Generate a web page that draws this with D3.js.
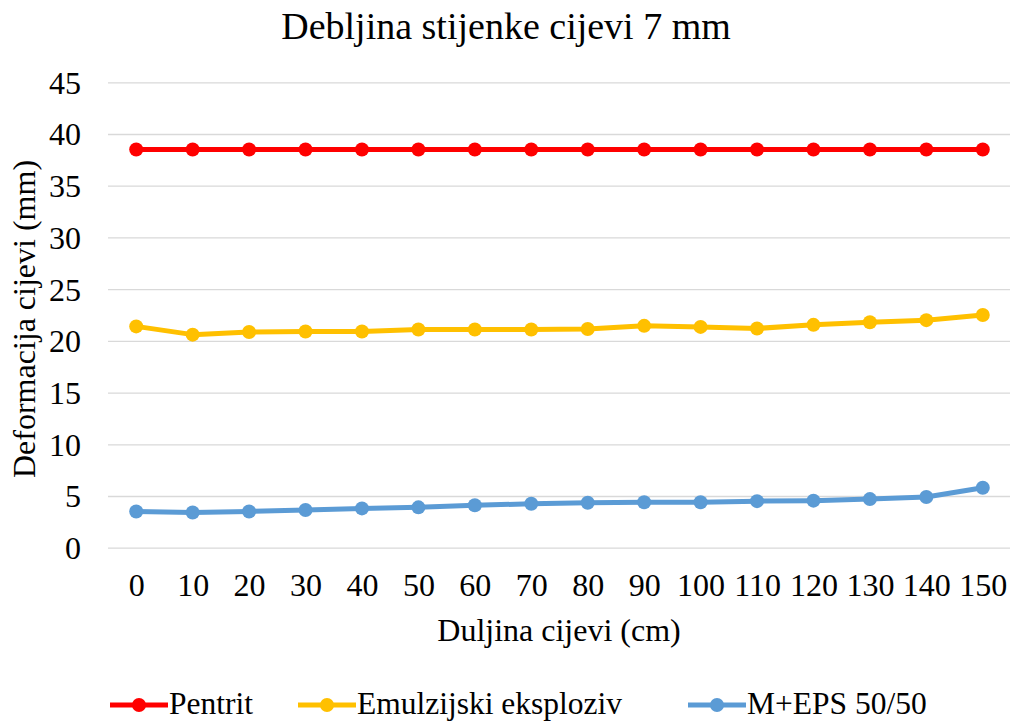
<!DOCTYPE html>
<html>
<head>
<meta charset="utf-8">
<script src="https://cdn.jsdelivr.net/npm/d3@7"></script>
<style>
  body { margin: 0; background: #fff; }
</style>
</head>
<body>
<div id="chart"></div>
<script>
  //-- DATA
  var categories = [0, 10, 20, 30, 40, 50, 60, 70, 80, 90, 100, 110, 120, 130, 140, 150];
  var pentrit = [38.5, 38.5, 38.5, 38.5, 38.5, 38.5, 38.5, 38.5, 38.5, 38.5, 38.5, 38.5, 38.5, 38.5, 38.5, 38.5];
  var emulzija = [21.4, 20.6, 20.85, 20.9, 20.9, 21.1, 21.1, 21.1, 21.15, 21.45, 21.35, 21.2, 21.55, 21.8, 22.0, 22.5];
  var meps = [3.5, 3.4, 3.5, 3.65, 3.8, 3.9, 4.1, 4.25, 4.35, 4.4, 4.4, 4.5, 4.55, 4.7, 4.9, 5.8];
  var yTicks = [0, 5, 10, 15, 20, 25, 30, 35, 40, 45];
  var seriesNames = ['Pentrit', 'Emulzijski eksploziv', 'M+EPS 50/50'];
  var seriesColors = ['#FF0000', '#FFC000', '#5B9BD5'];

  var series = [pentrit, emulzija, meps].map(function(vals, i) {
    return { name: seriesNames[i], color: seriesColors[i], values: vals };
  });

  var FONT = '"Liberation Serif", "Times New Roman", Tinos, serif';

  //-- SIZE
  var svgWidth = 1010, svgHeight = 722;
  var m = { top: 82, right: 0, bottom: 175, left: 108 };

  var svg = d3.select('#chart').append('svg')
    .attr('width', svgWidth)
    .attr('height', svgHeight)
    .style('font-family', FONT);

  //-- SCALES
  var x = d3.scalePoint()
    .domain(categories)
    .range([m.left, 1011])
    .padding(0.5);

  var y = d3.scaleLinear()
    .domain([0, 45])
    .range([547.7, 82.3]);

  //-- GRID
  svg.append('g')
    .attr('transform', 'translate(' + m.left + ',0)')
    .call(d3.axisLeft(y).tickValues(yTicks).tickSize(-(1010 - m.left)).tickFormat(''))
    .call(function(g) {
      g.select('.domain').remove();
      g.selectAll('line').attr('stroke', '#D9D9D9').attr('stroke-width', 1.3);
    });

  //-- Y AXIS LABELS
  svg.append('g')
    .attr('transform', 'translate(' + 81 + ',0)')
    .call(d3.axisLeft(y).tickValues(yTicks).tickSize(0))
    .call(function(g) {
      g.select('.domain').remove();
      g.attr('font-family', null).attr('font-size', null);
      g.selectAll('text')
        .attr('x', 0)
        .attr('dy', '0.34em')
        .attr('fill', '#000')
        .style('font-family', FONT)
        .style('font-size', '32px');
    });

  //-- X AXIS LABELS
  svg.append('g')
    .attr('transform', 'translate(0,' + 548 + ')')
    .call(d3.axisBottom(x).tickSize(0))
    .call(function(g) {
      g.select('.domain').remove();
      g.attr('font-family', null).attr('font-size', null);
      g.selectAll('text')
        .attr('y', 48)
        .attr('dy', 0)
        .attr('fill', '#000')
        .style('font-family', FONT)
        .style('font-size', '32px');
    });

  //-- LINES + MARKERS
  var line = d3.line()
    .x(function(d, i) { return x(categories[i]); })
    .y(function(d) { return y(d); });

  var sg = svg.selectAll('.series')
    .data(series)
    .enter().append('g')
    .attr('class', 'series');

  sg.append('path')
    .attr('d', function(d) { return line(d.values); })
    .attr('fill', 'none')
    .attr('stroke', function(d) { return d.color; })
    .attr('stroke-width', 5)
    .attr('stroke-linejoin', 'round');

  sg.each(function(s) {
    d3.select(this).selectAll('circle')
      .data(s.values)
      .enter().append('circle')
      .attr('cx', function(d, i) { return x(categories[i]); })
      .attr('cy', function(d) { return y(d); })
      .attr('r', 7)
      .attr('fill', s.color);
  });

  //-- TITLES
  svg.append('text')
    .attr('x', 506)
    .attr('y', 39)
    .attr('text-anchor', 'middle')
    .style('font-size', '38px')
    .text('Debljina stijenke cijevi 7 mm');

  svg.append('text')
    .attr('x', 559)
    .attr('y', 641)
    .attr('text-anchor', 'middle')
    .style('font-size', '32px')
    .text('Duljina cijevi (cm)');

  svg.append('text')
    .attr('transform', 'translate(35,319) rotate(-90)')
    .attr('text-anchor', 'middle')
    .style('font-size', '32px')
    .text('Deformacija cijevi (mm)');

  //-- LEGEND
  var legendX = [110, 298, 688];
  var lg = svg.selectAll('.legend')
    .data(series)
    .enter().append('g')
    .attr('class', 'legend')
    .attr('transform', function(d, i) { return 'translate(' + legendX[i] + ',705)'; });

  lg.append('line')
    .attr('x1', 0).attr('x2', 58)
    .attr('stroke', function(d) { return d.color; })
    .attr('stroke-width', 5);

  lg.append('circle')
    .attr('cx', 29).attr('r', 7)
    .attr('fill', function(d) { return d.color; });

  lg.append('text')
    .attr('x', 59)
    .attr('y', 9)
    .style('font-size', '31.5px')
    .text(function(d) { return d.name; });
</script>
</body>
</html>
